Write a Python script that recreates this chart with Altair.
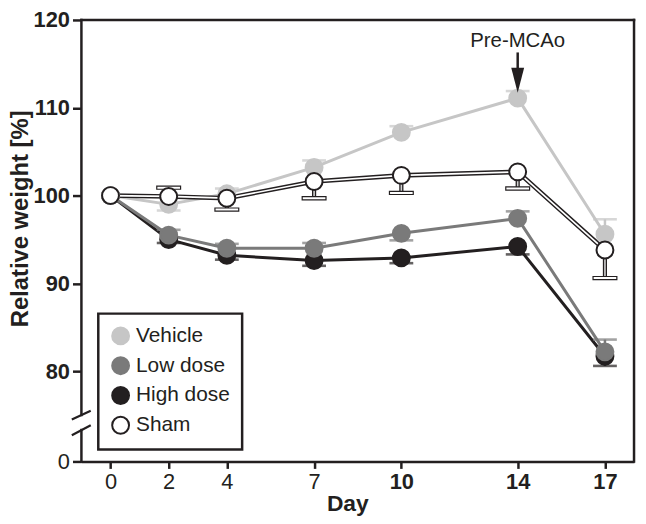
import altair as alt
import pandas as pd

# ---------------- data ----------------
days = [0, 2, 4, 7, 10, 14, 17]
groups = ["Vehicle", "Low dose", "High dose", "Sham"]

vehicle = [100.0, 99.0, 100.2, 103.2, 107.2, 111.1, 95.6]
vehicle_err = [0, -0.7, 0.6, 0.8, 0.7, 0.8, 1.7]
low_dose = [100.0, 95.5, 94.0, 94.0, 95.7, 97.4, 82.2]
low_err = [0, 0.6, 0.5, 0.6, -0.8, 0.8, 1.4]
high_dose = [100.0, 95.0, 93.2, 92.6, 92.9, 94.2, 81.7]
high_err = [0, -0.4, -0.5, -0.6, -0.6, -0.9, -1.1]
sham = [100.0, 99.9, 99.7, 101.6, 102.3, 102.7, 93.8]
sham_err = [0, 1.0, -1.3, -1.9, -2.0, -1.9, -3.2]

x_ticks = [0, 2, 4, 7, 10, 14, 17]
y_bottom = 69.72          # broken axis: bottom is labelled "0"
y_ticks = [y_bottom, 80, 90, 100, 110, 120]
x_dom = [-1, 18]
y_dom = [y_bottom, 120]

annot_text = "Pre-MCAo"
annot_day = 14
annot_y = 116.9

# ---------------- styling ----------------
fill_colors = ["#c6c6c6", "#7a7a7a", "#231f20", "#ffffff"]
stroke_colors = ["#c6c6c6", "#7a7a7a", "#231f20", "#231f20"]
FONT = "Liberation Sans"
BLACK = "#231f20"

rows = []
for name, vals, errs in [("High dose", high_dose, high_err),
                         ("Low dose", low_dose, low_err),
                         ("Vehicle", vehicle, vehicle_err),
                         ("Sham", sham, sham_err)]:
    for d, v, e in zip(days, vals, errs):
        rows.append({"day": d, "group": name, "value": v, "err": e, "end": v + e})
df = pd.DataFrame(rows)

xs = alt.Scale(domain=x_dom, nice=False, zero=False)
ys = alt.Scale(domain=y_dom, nice=False, zero=False)

x_enc = alt.X("day:Q", scale=xs, axis=alt.Axis(
    values=x_ticks, title="Day", grid=False, labelFontSize=22, labelFont=FONT,
    labelColor=BLACK, labelPadding=3,
    labelFontWeight={"condition": {"test": "datum.value >= 10", "value": "bold"}, "value": "normal"},
    tickSize=7, tickWidth=2.5, tickColor=BLACK, domainWidth=2.5, domainColor=BLACK,
    titleFontSize=23, titleFont=FONT, titleFontWeight="bold", titleColor=BLACK,
    titleX=268, titleY=49, titleBaseline="alphabetic", titleAnchor="middle", titleAlign="center"))
y_enc = alt.Y("value:Q", scale=ys, axis=alt.Axis(
    values=y_ticks, title="Relative weight [%]", grid=False, domain=False,
    labelExpr="datum.value < 75 ? '0' : datum.label",
    labelFontSize=22, labelFont=FONT, labelColor=BLACK, labelPadding=3,
    labelFontWeight={"condition": {"test": "datum.value < 75", "value": "normal"}, "value": "bold"},
    tickSize=9, tickWidth=2.5, tickColor=BLACK,
    titleFontSize=24, titleFont=FONT, titleFontWeight="bold", titleColor=BLACK,
    titleX=-54, titleY=200, titleBaseline="alphabetic", titleAlign="center", titleAngle=-90))

base = alt.Chart(df)
filled = base.transform_filter("datum.group != 'Sham'")
shamc = base.transform_filter("datum.group == 'Sham'")
col = alt.Color("group:N", scale=alt.Scale(domain=groups[:3], range=fill_colors[:3]), legend=None)

lines = filled.mark_line(strokeWidth=3).encode(x=x_enc, y=y_enc, color=col)
sham_outer = shamc.mark_line(strokeWidth=4.6, color=BLACK).encode(x="day:Q", y="value:Q")
sham_inner = shamc.mark_line(strokeWidth=1.7, color="white").encode(x="day:Q", y="value:Q")

err_f = filled.transform_filter("datum.err != 0")
err_s = shamc.transform_filter("datum.err != 0")
stems = err_f.mark_rule(strokeWidth=2.5).encode(x="day:Q", y="value:Q", y2="end:Q", color=col)
caps = err_f.mark_tick(orient="horizontal", size=24, thickness=2.6).encode(x="day:Q", y="end:Q", color=col)
s_stem_o = err_s.mark_rule(strokeWidth=4.2, color=BLACK).encode(x="day:Q", y="value:Q", y2="end:Q")
s_stem_i = err_s.mark_rule(strokeWidth=1.6, color="#d0d0d0").encode(x="day:Q", y="value:Q", y2="end:Q")
s_caps = err_s.mark_tick(orient="horizontal", size=24, thickness=3.2, fill="white",
                         stroke=BLACK, strokeWidth=1.2, opacity=1).encode(x="day:Q", y="end:Q")

leg = alt.Legend(title=None, orient="none", legendX=17, legendY=296, padding=12,
                 rowPadding=5, labelFontSize=21, labelFont=FONT, labelColor=BLACK,
                 symbolSize=289, symbolStrokeWidth=2, labelOffset=5, symbolType="circle",
                 strokeColor=BLACK, fillColor="white", cornerRadius=0)
points = base.mark_point(shape="circle", size=290, strokeWidth=2, opacity=1, fillOpacity=1).encode(
    x="day:Q", y="value:Q",
    fill=alt.Fill("group:N", scale=alt.Scale(domain=groups, range=fill_colors), legend=leg),
    stroke=alt.Stroke("group:N", scale=alt.Scale(domain=groups, range=stroke_colors), legend=leg),
)

# frame (top / right) and broken left axis
frame_h = alt.Chart(pd.DataFrame({"x": [x_dom[0]], "x2": [x_dom[1]], "y": [y_dom[1]]})).mark_rule(
    strokeWidth=2.5, color=BLACK, strokeCap="square").encode(x="x:Q", x2="x2:Q", y="y:Q")
frame_v = alt.Chart(pd.DataFrame({"x": [x_dom[1], x_dom[0], x_dom[0]],
                                  "y": [y_dom[0], 75.0, y_dom[0]],
                                  "y2": [y_dom[1], y_dom[1], 73.3]})).mark_rule(
    strokeWidth=2.5, color=BLACK, strokeCap="square").encode(x="x:Q", y="y:Q", y2="y2:Q")
slashes = alt.Chart(pd.DataFrame({"x": [-1.33, -1.33], "x2": [-0.68, -0.68],
                                  "y": [74.5, 72.7], "y2": [75.5, 73.85]})).mark_rule(
    strokeWidth=2.2, color=BLACK).encode(x="x:Q", x2="x2:Q", y="y:Q", y2="y2:Q")

annot = alt.Chart(pd.DataFrame({"day": [annot_day], "y": [annot_y], "t": [annot_text]})).mark_text(
    fontSize=20.5, font=FONT, color=BLACK, baseline="alphabetic", align="center").encode(
    x="day:Q", y="y:Q", text="t:N")
arrow_stem = alt.Chart(pd.DataFrame({"day": [annot_day], "y": [116.3], "y2": [114.0]})).mark_rule(
    strokeWidth=2.5, color=BLACK).encode(x="day:Q", y="y:Q", y2="y2:Q")
arrow_head = alt.Chart(pd.DataFrame({"day": [annot_day], "y": [113.13]})).mark_point(
    shape="M-0.52,-1L0.52,-1L0,1Z", size=625, filled=True, color=BLACK, opacity=1).encode(
    x="day:Q", y="y:Q")

chart = alt.layer(
    lines, sham_outer, sham_inner, stems, caps, s_stem_o, s_stem_i, s_caps, points,
    frame_h, frame_v, slashes, annot, arrow_stem, arrow_head
).properties(
    width=557, height=445,
    padding={"left": 74, "top": 10, "right": 4, "bottom": 61},
    autosize=alt.AutoSizeParams(type="none"),
).configure_view(stroke=None).configure_legend(strokeWidth=2.5)

chart.save("out.html", embed_options={"renderer": "svg", "actions": False})
